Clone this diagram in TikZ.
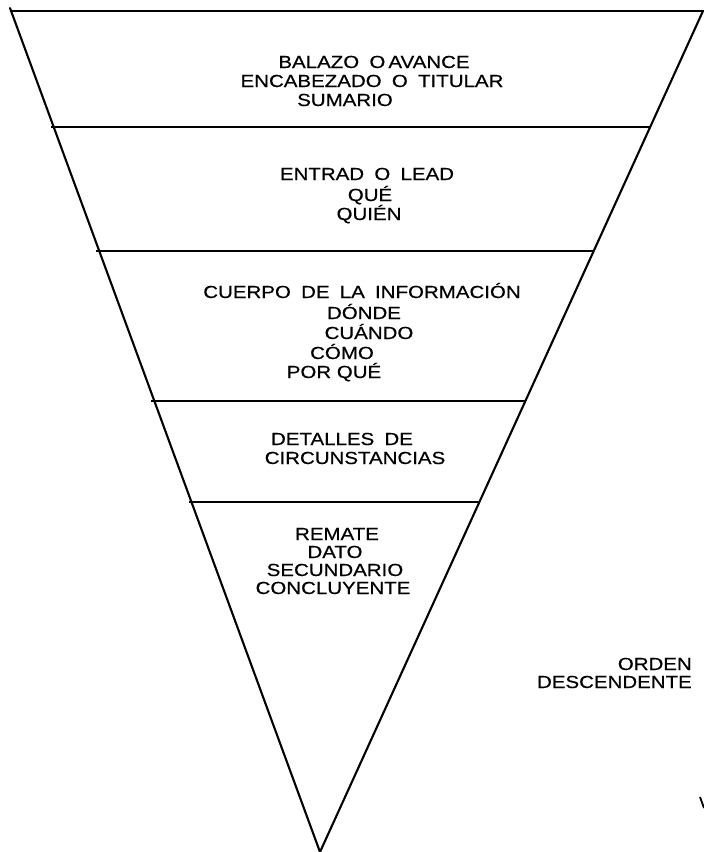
\documentclass[tikz,border=0pt]{standalone}
\usepackage{fontspec}
\usepackage{graphicx}
\setmainfont{Liberation Sans}
\newfontfamily\txtfont{Liberation Sans}[FakeBold=0.4]
\newcommand\wsp{\hspace{0.5em}}
\newcommand\xwide[1]{\scalebox{1.17}[1]{#1}}
\begin{document}
\begin{tikzpicture}[x=1pt,y=-1pt,
  lbl/.style={font=\txtfont\fontsize{17.5}{17.5}\selectfont, inner sep=0pt, anchor=base},
  side/.style={line width=2.1pt, line cap=round, line join=round},
  rule/.style={line width=1.8pt}]
\useasboundingbox (0,0) rectangle (704,852);
% triangle corners
\coordinate (TL) at (10,8);
\coordinate (TR) at (703,11);
\coordinate (AP) at (320,852);
\draw[side] (TL) -- (AP) -- (TR);
\draw[rule] (10,11) -- (704,11);
% section rules
\draw[rule] (51,127) -- (651,127);
\draw[rule] (96,251) -- (594,251);
\draw[rule] (151,401) -- (526,401);
\draw[rule] (189,502) -- (480,502);
% block 1
\node[lbl] (b1a) at (374,68) {\xwide{BALAZO\wsp O\hspace{0.15em}AVANCE}};
\node[lbl] (b1b) at (372,87) {\xwide{ENCABEZADO\wsp O\wsp TITULAR}};
\node[lbl] (b1c) at (345,106) {\xwide{SUMARIO}};
% block 2
\node[lbl] (b2a) at (367,180) {\xwide{ENTRAD\wsp O\wsp LEAD}};
\node[lbl] (b2b) at (370,201) {\xwide{QUÉ}};
\node[lbl] (b2c) at (369,220) {\xwide{QUIÉN}};
% block 3
\node[lbl] (b3a) at (362,298) {\xwide{CUERPO\wsp DE\wsp LA\wsp INFORMACIÓN}};
\node[lbl] (b3b) at (364,319) {\xwide{DÓNDE}};
\node[lbl] (b3c) at (369,339) {\xwide{CUÁNDO}};
\node[lbl] (b3d) at (342,359) {\xwide{CÓMO}};
\node[lbl] (b3e) at (334,378) {\xwide{POR QUÉ}};
% block 4
\node[lbl] (b4a) at (342,445) {\xwide{DETALLES\wsp DE}};
\node[lbl] (b4b) at (355,464) {\xwide{CIRCUNSTANCIAS}};
% block 5
\node[lbl] (b5a) at (337,540) {\xwide{REMATE}};
\node[lbl] (b5b) at (335,558) {\xwide{DATO}};
\node[lbl] (b5c) at (335,576) {\xwide{SECUNDARIO}};
\node[lbl] (b5d) at (333,594) {\xwide{CONCLUYENTE}};
% side label
\node[lbl, anchor=base east] (ord1) at (692,670) {\xwide{ORDEN}};
\node[lbl, anchor=base east] (ord2) at (692,688) {\xwide{DESCENDENTE}};
% cropped mark at right edge
\draw[line width=1.8pt] (700,797) -- (704,808);
\end{tikzpicture}
\end{document}
